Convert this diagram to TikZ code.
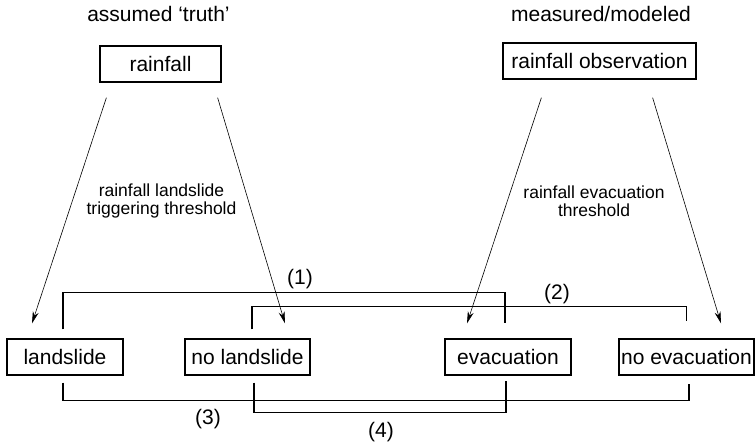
\documentclass[tikz,border=0pt]{standalone}
\usepackage{fontspec}
\setmainfont{Liberation Sans}
\usetikzlibrary{arrows.meta}
\tikzset{
 box/.style={draw, line width=1.2pt, inner sep=0pt, minimum height=36pt, font=\fontsize{21}{24}\selectfont},
 lbl/.style={inner sep=0pt, font=\fontsize{21}{24}\selectfont},
 small/.style={inner sep=0pt, align=center, font=\fontsize{17.5}{17.5}\selectfont},
 arr/.style={line width=0.6pt, -{Stealth[length=12pt,width=6pt]}},
 brk/.style={line width=1.2pt},
}
\begin{document}
\begin{tikzpicture}[x=1pt,y=-1pt]
\useasboundingbox (0,0) rectangle (755,443);
\node[lbl, anchor=base] (t1) at (158.5,22) {assumed ‘truth’};
\node[lbl, anchor=base] (t2) at (601,22) {measured/modeled};
\node[box, minimum width=121pt] (rf) at (160.5,64) {rainfall};
\node[box, minimum width=193pt] (ro) at (599.5,61) {rainfall observation};
\node[box, minimum width=116pt] (ls) at (65,357) {landslide};
\node[box, minimum width=125pt] (nl) at (247.5,357) {no landslide};
\node[box, minimum width=126pt] (ev) at (508,357) {evacuation};
\node[box, minimum width=135pt] (ne) at (686.5,357) {no evacuation};
\node[small] (th1) at (161.5,201) {rainfall landslide\\triggering threshold};
\node[small] (th2) at (594,201) {rainfall evacuation\\threshold};
\draw[arr] ([shift={(7pt,-15pt)}]rf.south west) -- ([shift={(-33pt,15pt)}]ls.north);
\draw[arr] ([shift={(-4pt,-15pt)}]rf.south east) -- ([shift={(37.5pt,15pt)}]nl.north);
\draw[arr] ([shift={(39pt,-18pt)}]ro.south west) -- ([shift={(-41pt,15pt)}]ev.north);
\draw[arr] ([shift={(-44pt,-18pt)}]ro.south east) -- ([shift={(34.5pt,15pt)}]ne.north);
\draw[brk] ([xshift=-2pt,yshift=9pt]ls.north) -- ++(0,-37) -| ([xshift=-3pt,yshift=15pt]ev.north);
\draw[brk] ([xshift=4.5pt,yshift=9pt]nl.north) -- ++(0,-23) -| ([yshift=17pt]ne.north);
\draw[brk] ([xshift=-2pt,yshift=-7pt]ls.south) -- ++(0,18) -| ([xshift=2.5pt,yshift=-8pt]ne.south);
\draw[brk] ([xshift=6.5pt,yshift=-7pt]nl.south) -- ++(0,30) -| ([xshift=-2pt,yshift=-5pt]ev.south);
\node[lbl] (n1) at (300,279) {(1)};
\node[lbl] (n2) at (557,294) {(2)};
\node[lbl] (n3) at (208,419) {(3)};
\node[lbl] (n4) at (381,432) {(4)};
\end{tikzpicture}
\end{document}
